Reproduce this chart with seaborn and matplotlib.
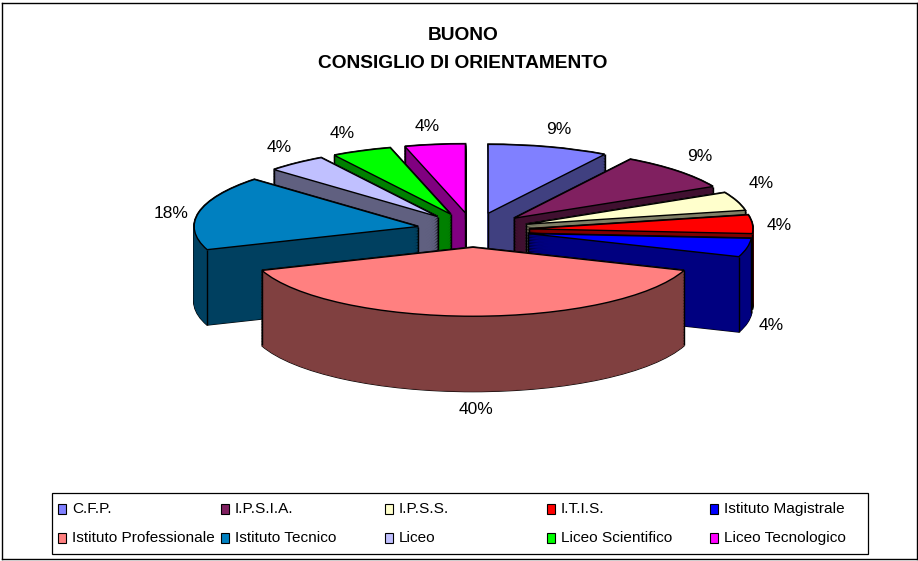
import matplotlib

matplotlib.use('Agg')
import matplotlib.pyplot as plt
from matplotlib.patches import Rectangle
import numpy as np
import seaborn as sns

categories = ['C.F.P.', 'I.P.S.I.A.', 'I.P.S.S.', 'I.T.I.S.', 'Istituto Magistrale',
              'Istituto Professionale', 'Istituto Tecnico', 'Liceo', 'Liceo Scientifico', 'Liceo Tecnologico']
# slice shares as measured on the picture, printed labels as written on it
values = [8.7, 8.7, 4.35, 4.35, 4.35, 39.1, 17.4, 4.35, 4.35, 4.35]
pct_labels = ['9%', '9%', '4%', '4%', '4%', '40%', '18%', '4%', '4%', '4%']
colors = ['#8080FF', '#802060', '#FFFFCC', '#FF0000', '#0000FF',
          '#FF8080', '#0080C0', '#C0C0FF', '#00FF00', '#FF00FF']
title_lines = ['BUONO', 'CONSIGLIO DI ORIENTAMENTO']

# label centres, in pixels of the reference
label_pos = [(559, 129), (700, 157), (761, 183), (779, 225), (771, 326),
             (476, 410), (171, 213), (279, 148), (342, 134), (427, 127)]
legend_cols = [58, 221, 385, 547, 710]
legend_rows = [508, 537]

W, H = 918, 561
CX, CY, RX, RY = 473, 230, 224, 69
DEPTH = 75
LAYERS = 50
EXPLODE = 0.25

sns.set_theme(style='white')
plt.rcParams['font.family'] = ['Liberation Sans', 'DejaVu Sans']

palette = sns.color_palette(colors)
sides = [tuple(c * 0.5 for c in col) for col in palette]


def px(x, y):
    return x / W, 1 - y / H


fig = plt.figure(figsize=(W / 100, H / 100), dpi=100, facecolor='white')
ax = fig.add_axes([2 / W, 1 - 559 / H, 915 / W, 556 / H])


def draw_pie(cols, drop, **wedgeprops):
    wedges, _ = ax.pie(values, colors=cols, explode=[EXPLODE] * len(values), startangle=90,
                       counterclock=False, center=(0, -drop), wedgeprops=wedgeprops)
    return wedges


# back slices first, front slices on top
mids = np.cumsum(values) - np.array(values) / 2
rank = np.argsort(np.argsort(-np.cos(mids / sum(values) * 2 * np.pi)))
depth_y = DEPTH / RY

for drop in np.linspace(depth_y, 0, LAYERS):
    for i, w in enumerate(draw_pie(palette, drop, edgecolor='black', linewidth=1.5)):
        w.set_zorder(rank[i] * 10 + 1)
for drop in np.linspace(depth_y, 0, LAYERS):
    for i, w in enumerate(draw_pie(sides, drop, linewidth=0.6)):
        w.set_edgecolor(sides[i])
        w.set_zorder(rank[i] * 10 + 2)
top = draw_pie(palette, 0, edgecolor='black', linewidth=1.0)
for i, w in enumerate(top):
    w.set_zorder(rank[i] * 10 + 4)
    t1, t2 = np.radians(w.theta1), np.radians(w.theta2)
    cx, cy = w.center
    cut1, cut2 = np.cos(t1) > 0, np.cos(t2) < 0
    corners = []
    if cut1 or cut2:
        corners.append((cx, cy))
    if cut1 or np.sin(t1) < 0:
        corners.append((cx + np.cos(t1), cy + np.sin(t1)))
    if cut2 or np.sin(t2) < 0:
        corners.append((cx + np.cos(t2), cy + np.sin(t2)))
    for x, y in corners:
        ax.plot([x, x], [y, y - depth_y], color='black', lw=1.0, zorder=rank[i] * 10 + 3, solid_capstyle='butt')

ax.set_aspect('auto')
ax.set_xlim((2 - CX) / RX, (917 - CX) / RX)
ax.set_ylim((CY - 559) / RY, (CY - 3) / RY)
ax.set_frame_on(True)
ax.set_axis_on()
ax.set_xticks([])
ax.set_yticks([])
for spine in ax.spines.values():
    spine.set_visible(True)
    spine.set_color('black')
    spine.set_linewidth(1.0)

for (x, y), label in zip(label_pos, pct_labels):
    fig.text(*px(x, y), label, fontsize=12.5, color='black', ha='center', va='center')

fig.text(*px(463, 36), title_lines[0], fontsize=13.8, fontweight='bold', color='black', ha='center', va='center')
fig.text(*px(463, 64), title_lines[1], fontsize=13.8, fontweight='bold', color='black', ha='center', va='center')

# legend box with evenly spaced columns
lx0, ly0 = px(52, 554)
lx1, ly1 = px(868, 493)
fig.add_artist(Rectangle((lx0, ly0), lx1 - lx0, ly1 - ly0, transform=fig.transFigure,
                         facecolor='white', edgecolor='black', linewidth=0.9, zorder=5))
for i, name in enumerate(categories):
    x = legend_cols[i % 5]
    y = legend_rows[i // 5]
    sx, sy = px(x, y + 6)
    fig.add_artist(Rectangle((sx, sy), 8 / W, 10 / H, transform=fig.transFigure,
                             facecolor=palette[i], edgecolor='black', linewidth=0.8, zorder=6))
    fig.text(*px(x + 14, y + 1), name, fontsize=11.1, color='black', ha='left', va='center', zorder=6)

fig.savefig('out.png', dpi=100)
plt.close(fig)
